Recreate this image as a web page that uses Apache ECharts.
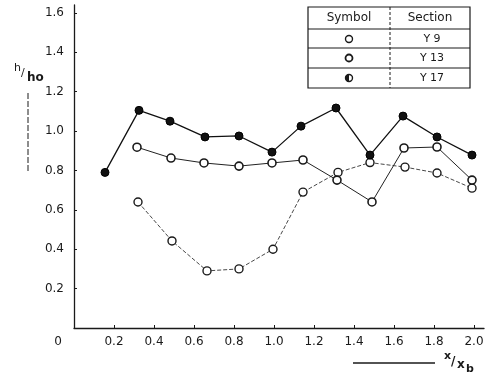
<!DOCTYPE html>
<html><head><meta charset="utf-8">
<script src="https://cdn.jsdelivr.net/npm/echarts@6/dist/echarts.min.js"></script>
<style>html,body{margin:0;padding:0;background:#fff}#c{width:496px;height:379px}</style>
</head><body><div id="c"></div>
<script>
// Data
const y17X = [0.155,0.325,0.48,0.655,0.825,0.99,1.135,1.31,1.48,1.645,1.815,1.99];
const y17Y = [0.79,1.105,1.05,0.97,0.975,0.893,1.025,1.117,0.878,1.076,0.97,0.878];
const y13X = [0.315,0.485,0.65,0.825,0.99,1.145,1.315,1.49,1.65,1.815,1.99];
const y13Y = [0.918,0.863,0.838,0.822,0.838,0.853,0.751,0.64,0.914,0.919,0.751];
const y9X  = [0.32,0.49,0.665,0.825,0.995,1.145,1.32,1.48,1.655,1.815,1.99];
const y9Y  = [0.64,0.442,0.29,0.30,0.40,0.69,0.79,0.84,0.817,0.787,0.71];
const xTickLabels = ['0.2','0.4','0.6','0.8','1.0','1.2','1.4','1.6','1.8','2.0'];
const yTickLabels = ['0.2','0.4','0.6','0.8','1.0','1.2','1.4','1.6'];
const legendHeader = ['Symbol','Section'];
const legendSections = ['Y 9','Y 13','Y 17'];

const zip = (xs, ys) => xs.map((x, i) => [x, ys[i]]);
const ink = '#1a1a1a';
const font = 'DejaVu Sans';

const chart = echarts.init(document.getElementById('c'), null, {renderer:'canvas'});
const fmt = v => {
  const s = v.toFixed(1);
  return s;
};
const option = {
  backgroundColor: '#fff',
  animation: false,
  grid: {left: 74, right: 12, top: 5, bottom: 51},
  xAxis: {
    type: 'value', min: 0, max: 2.05, interval: 0.2,
    axisLine: {lineStyle: {color: ink, width: 1.3}},
    axisTick: {inside: true, length: 3, lineStyle: {color: ink}},
    splitLine: {show: false},
    axisLabel: {
      showMaxLabel: false, margin: 8, color: ink, fontFamily: font, fontSize: 12,
      formatter: v => { const s = fmt(v); return xTickLabels.includes(s) ? s : ''; }
    }
  },
  yAxis: {
    type: 'value', min: 0, max: 1.64, interval: 0.2,
    axisLine: {show: true, lineStyle: {color: ink, width: 1.3}},
    axisTick: {show: true, inside: true, length: 3, lineStyle: {color: ink}},
    splitLine: {show: false},
    axisLabel: {
      showMaxLabel: false, margin: 10, color: ink, fontFamily: font, fontSize: 12,
      formatter: v => { if (v === 0) return '{z|0}'; const s = fmt(v); return yTickLabels.includes(s) ? s : ''; },
      rich: {z: {padding: [28, 2, 0, 0], fontSize: 12, fontFamily: font, color: ink}}
    }
  },
  series: [
    {
      name: 'Y 9', type: 'line', data: zip(y9X, y9Y), symbol: 'circle', symbolSize: 8,
      lineStyle: {color: '#333', width: 0.9, type: [4, 2]},
      itemStyle: {color: '#fff', borderColor: ink, borderWidth: 1.4}, z: 2
    },
    {
      name: 'Y 13', type: 'line', data: zip(y13X, y13Y), symbol: 'circle', symbolSize: 8,
      lineStyle: {color: '#222', width: 1},
      itemStyle: {color: '#fff', borderColor: ink, borderWidth: 1.6}, z: 3
    },
    {
      name: 'Y 17', type: 'line', data: zip(y17X, y17Y), symbol: 'circle', symbolSize: 8,
      lineStyle: {color: '#111', width: 1.3},
      itemStyle: {color: '#111', borderColor: '#000', borderWidth: 1}, z: 4
    }
  ],
  graphic: [
    // legend table
    {type: 'rect', shape: {x: 308, y: 7, width: 162, height: 81}, style: {fill: '#fff', stroke: ink, lineWidth: 1.2}},
    {type: 'line', shape: {x1: 308, y1: 29, x2: 470, y2: 29}, style: {stroke: ink, lineWidth: 1}},
    {type: 'line', shape: {x1: 308, y1: 48, x2: 470, y2: 48}, style: {stroke: ink, lineWidth: 1}},
    {type: 'line', shape: {x1: 308, y1: 68, x2: 470, y2: 68}, style: {stroke: ink, lineWidth: 1}},
    {type: 'line', shape: {x1: 390, y1: 7, x2: 390, y2: 88}, style: {stroke: ink, lineWidth: 1, lineDash: [3, 2]}},
    {type: 'text', x: 349, y: 18, style: {text: legendHeader[0], fontFamily: font, fontSize: 12, fill: ink, align: 'center', verticalAlign: 'middle'}},
    {type: 'text', x: 430, y: 18, style: {text: legendHeader[1], fontFamily: font, fontSize: 12, fill: ink, align: 'center', verticalAlign: 'middle'}},
    {type: 'text', x: 432, y: 39, style: {text: legendSections[0], fontFamily: font, fontSize: 11, fill: ink, align: 'center', verticalAlign: 'middle'}},
    {type: 'text', x: 432, y: 58, style: {text: legendSections[1], fontFamily: font, fontSize: 11, fill: ink, align: 'center', verticalAlign: 'middle'}},
    {type: 'text', x: 432, y: 78, style: {text: legendSections[2], fontFamily: font, fontSize: 11, fill: ink, align: 'center', verticalAlign: 'middle'}},
    {type: 'circle', shape: {cx: 349, cy: 39, r: 3.5}, style: {fill: '#fff', stroke: ink, lineWidth: 1.4}},
    {type: 'circle', shape: {cx: 349, cy: 58, r: 3.5}, style: {fill: '#fff', stroke: ink, lineWidth: 1.8}},
    {type: 'circle', shape: {cx: 349, cy: 78, r: 3.5}, style: {fill: '#fff', stroke: ink, lineWidth: 1.4}},
    {type: 'sector', shape: {cx: 349, cy: 78, r: 3.5, r0: 0, startAngle: Math.PI / 2, endAngle: Math.PI * 1.5}, style: {fill: ink}},
    // y axis name h/ho
    {type: 'text', x: 14, y: 63, style: {text: 'h', fontFamily: font, fontSize: 11, fill: ink}},
    {type: 'text', x: 21, y: 68, style: {text: '/', fontFamily: font, fontSize: 11, fill: ink}},
    {type: 'text', x: 27, y: 72, style: {text: 'ho', fontFamily: font, fontSize: 12, fontWeight: 'bold', fill: ink}},
    {type: 'line', shape: {x1: 28, y1: 93, x2: 28, y2: 173}, style: {stroke: ink, lineWidth: 1, lineDash: [6, 2]}},
    // x axis name x/xb
    {type: 'text', x: 444, y: 351, style: {text: 'x', fontFamily: font, fontSize: 11, fontWeight: 'bold', fill: ink}},
    {type: 'text', x: 451, y: 356, style: {text: '/', fontFamily: font, fontSize: 12, fontWeight: 'bold', fill: ink}},
    {type: 'text', x: 457, y: 359, style: {text: 'x', fontFamily: font, fontSize: 12, fontWeight: 'bold', fill: ink}},
    {type: 'text', x: 466, y: 364, style: {text: 'b', fontFamily: font, fontSize: 11, fontWeight: 'bold', fill: ink}},
    {type: 'line', shape: {x1: 353, y1: 363, x2: 435, y2: 363}, style: {stroke: ink, lineWidth: 1.3}}
  ]
};
chart.setOption(option);
</script>
</body></html>
